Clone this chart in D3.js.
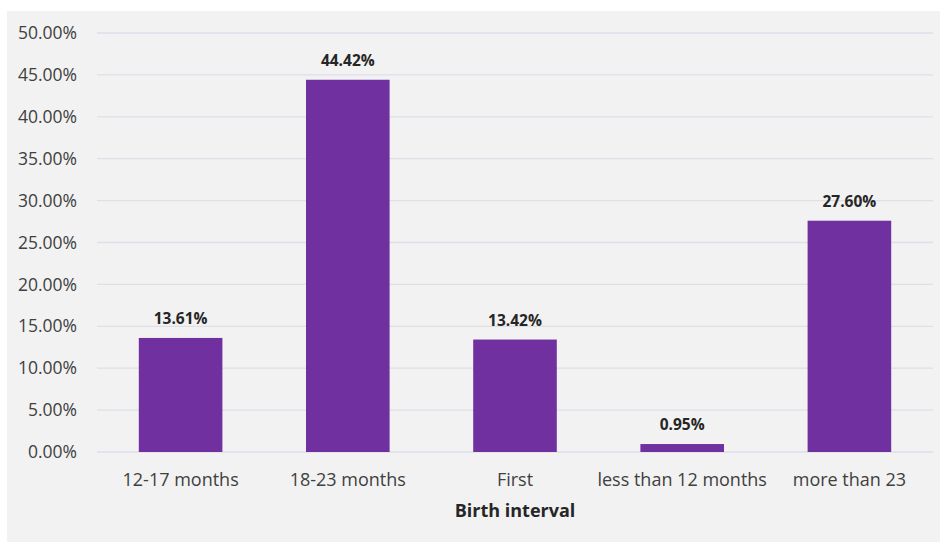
<!DOCTYPE html>
<html>
<head>
<meta charset="utf-8">
<script src="https://cdn.jsdelivr.net/npm/d3@7"></script>
<style>
  html, body { margin: 0; padding: 0; background: #ffffff; }
  svg { display: block; }
</style>
</head>
<body>
<svg id="chart" width="940" height="542"></svg>
<script>
// Share of births by birth interval
const categories = ["12-17 months", "18-23 months", "First", "less than 12 months", "more than 23"];
const shares = [13.61, 44.42, 13.42, 0.95, 27.60];
const yTicks = [0, 5, 10, 15, 20, 25, 30, 35, 40, 45, 50];
const axisTitle = "Birth interval";

const svg = d3.select("#chart");
const W = 940, H = 542;
const font = "'Open Sans', 'Noto Sans', sans-serif";

// Chart area background
svg.append("rect")
  .attr("x", 7).attr("y", 11)
  .attr("width", W - 7).attr("height", H - 11)
  .attr("fill", "#f2f2f2");

const plot = { left: 97, right: 933, top: 33, bottom: 452 };

const x = d3.scaleBand()
  .domain(categories)
  .range([plot.left, plot.right])
  .paddingInner(0.5)
  .paddingOuter(0.25);

const y = d3.scaleLinear()
  .domain([0, 50])
  .range([plot.bottom, plot.top]);

// Horizontal gridlines
svg.append("g")
  .selectAll("line")
  .data(yTicks)
  .join("line")
  .attr("x1", plot.left).attr("x2", plot.right)
  .attr("y1", d => y(d)).attr("y2", d => y(d))
  .attr("stroke", "#dedfe9")
  .attr("stroke-width", 1.3);

// Y axis labels
const yAxis = d3.axisLeft(y)
  .tickValues(yTicks)
  .tickSize(0)
  .tickPadding(20)
  .tickFormat(d => d.toFixed(2) + "%");

svg.append("g")
  .attr("transform", `translate(${plot.left},0)`)
  .call(yAxis)
  .call(g => g.select(".domain").remove())
  .selectAll("text")
  .attr("font-family", font)
  .attr("font-size", 17.5)
  .attr("fill", "#404040");

// Bars
svg.append("g")
  .selectAll("rect")
  .data(categories)
  .join("rect")
  .attr("x", d => x(d))
  .attr("width", x.bandwidth())
  .attr("y", (d, i) => y(shares[i]))
  .attr("height", (d, i) => y(0) - y(shares[i]))
  .attr("fill", "#7030a0");

// Value labels
svg.append("g")
  .selectAll("text")
  .data(categories)
  .join("text")
  .attr("x", d => x(d) + x.bandwidth() / 2)
  .attr("y", (d, i) => y(shares[i]) - 14)
  .attr("text-anchor", "middle")
  .attr("font-family", font)
  .attr("font-size", 15.5)
  .attr("font-weight", "bold")
  .attr("fill", "#262626")
  .text((d, i) => shares[i].toFixed(2) + "%");

// X axis labels
const xAxis = d3.axisBottom(x).tickSize(0).tickPadding(21);
svg.append("g")
  .attr("transform", `translate(0,${plot.bottom})`)
  .call(xAxis)
  .call(g => g.select(".domain").remove())
  .selectAll("text")
  .attr("font-family", font)
  .attr("font-size", 18)
  .attr("fill", "#404040");

// Axis title
svg.append("text")
  .attr("x", (plot.left + plot.right) / 2)
  .attr("y", 517)
  .attr("text-anchor", "middle")
  .attr("font-family", font)
  .attr("font-size", 18)
  .attr("font-weight", "bold")
  .attr("fill", "#262626")
  .text(axisTitle);
</script>
</body>
</html>
